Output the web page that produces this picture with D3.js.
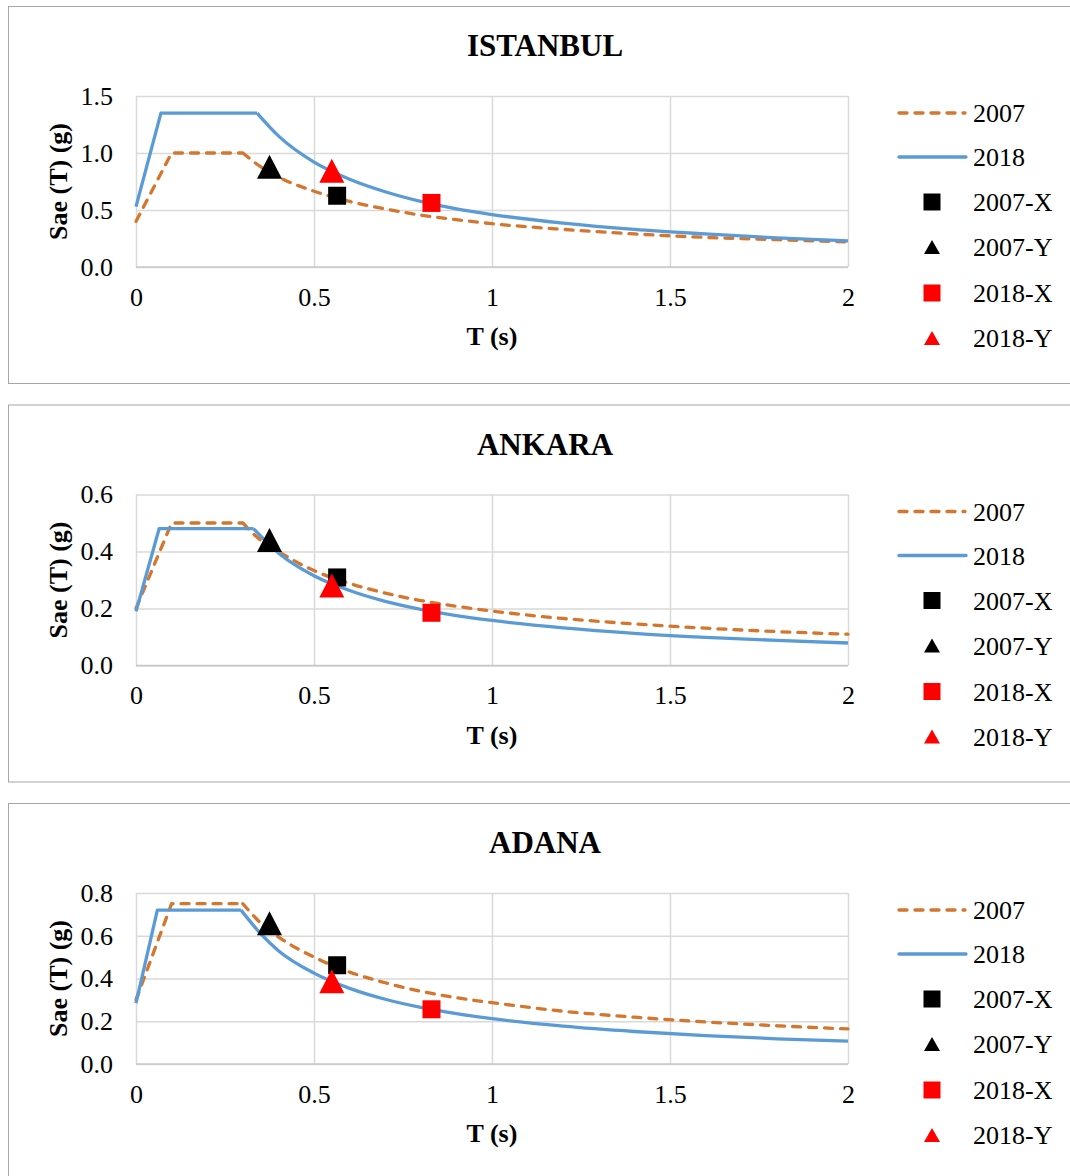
<!DOCTYPE html>
<html>
<head>
<meta charset="utf-8">
<script src="https://cdn.jsdelivr.net/npm/d3@7"></script>
<style>
  body { margin: 0; background: #fff; }
  svg text { font-family: "Liberation Serif", "Times New Roman", serif; fill: #000; }
</style>
</head>
<body>
<div id="charts"></div>
<script>
// periods (s) used for the 2007 spectra
const t2007 = [0, 0.1, 0.3, 0.35, 0.4, 0.5, 0.6, 0.7, 0.8, 0.9, 1.0, 1.2, 1.4, 1.6, 1.8, 2.0];
const istanbul2007 = [0.40, 1.0, 1.0, 0.88, 0.79, 0.665, 0.575, 0.51, 0.455, 0.415, 0.38, 0.33, 0.29, 0.26, 0.24, 0.22];
const ankara2007 = [0.20, 0.5, 0.5, 0.44, 0.40, 0.333, 0.288, 0.254, 0.228, 0.208, 0.191, 0.165, 0.146, 0.131, 0.119, 0.11];
const adana2007 = [0.30, 0.75, 0.75, 0.66, 0.595, 0.50, 0.43, 0.38, 0.34, 0.31, 0.287, 0.247, 0.219, 0.197, 0.179, 0.164];

// 2018 spectra, each city has its own corner periods
const istanbulT2018 = [0, 0.07, 0.34, 0.4, 0.5, 0.6, 0.7, 0.8, 0.9, 1.0, 1.2, 1.4, 1.6, 1.8, 2.0];
const istanbul2018 = [0.53, 1.35, 1.35, 1.15, 0.92, 0.77, 0.66, 0.575, 0.51, 0.46, 0.385, 0.33, 0.29, 0.255, 0.23];
const ankaraT2018 = [0, 0.065, 0.33, 0.4, 0.5, 0.6, 0.7, 0.8, 0.9, 1.0, 1.2, 1.4, 1.6, 1.8, 2.0];
const ankara2018 = [0.19, 0.48, 0.48, 0.395, 0.315, 0.263, 0.225, 0.197, 0.175, 0.158, 0.132, 0.113, 0.099, 0.088, 0.079];
const adanaT2018 = [0, 0.06, 0.295, 0.35, 0.4, 0.5, 0.6, 0.7, 0.8, 0.9, 1.0, 1.2, 1.4, 1.6, 1.8, 2.0];
const adana2018 = [0.285, 0.72, 0.72, 0.61, 0.53, 0.425, 0.354, 0.303, 0.265, 0.236, 0.212, 0.177, 0.152, 0.133, 0.118, 0.107];

// building periods and spectral values
const markerNames = ["2007-X", "2007-Y", "2018-X", "2018-Y"];
const markerT = [0.565, 0.375, 0.83, 0.55];
const istanbulMarks = [0.625, 0.88, 0.562, 0.845];
const ankaraMarks = [0.309, 0.44, 0.185, 0.281];
const adanaMarks = [0.462, 0.659, 0.256, 0.387];

// axis ticks
const xTicks = [0, 0.5, 1, 1.5, 2];
const istanbulTicks = [0, 0.5, 1.0, 1.5];
const ankaraTicks = [0, 0.2, 0.4, 0.6];
const adanaTicks = [0, 0.2, 0.4, 0.6, 0.8];

const cities = [
  {name: "ISTANBUL", s2007: istanbul2007, t2018: istanbulT2018, s2018: istanbul2018, marks: istanbulMarks, ticks: istanbulTicks},
  {name: "ANKARA", s2007: ankara2007, t2018: ankaraT2018, s2018: ankara2018, marks: ankaraMarks, ticks: ankaraTicks},
  {name: "ADANA", s2007: adana2007, t2018: adanaT2018, s2018: adana2018, marks: adanaMarks, ticks: adanaTicks}
];

const orange = "#D5762F", blue = "#5B9BD5", red = "#FF0000";
const markerColor = ["#000", "#000", red, red];
const markerShape = ["square", "triangle", "square", "triangle"];

function triangle(w, h) {
  return `M0,${-h/2}L${w/2},${h/2}L${-w/2},${h/2}Z`;
}
function square(s) {
  return `M${-s/2},${-s/2}h${s}v${s}h${-s}Z`;
}

const svg = d3.select("#charts").append("svg")
  .attr("width", 1070)
  .attr("height", 1176);

const x = d3.scaleLinear().domain([0, 2]).range([136, 848]);
const plotTop = 90, plotBottom = 261;

cities.forEach(function(c, i) {
  const g = svg.append("g").attr("transform", `translate(0,${6 + i * 398.5})`);

  // panel frame
  g.append("rect")
    .attr("x", 8.5).attr("y", 0.5)
    .attr("width", 1080).attr("height", 377)
    .attr("fill", "#fff").attr("stroke", "#a6a6a6");

  g.append("text")
    .attr("x", 545).attr("y", 50)
    .attr("text-anchor", "middle")
    .attr("font-size", 31).attr("font-weight", "bold")
    .text(c.name);

  const y = d3.scaleLinear().domain([0, d3.max(c.ticks)]).range([plotBottom, plotTop]);

  // y axis + horizontal grid
  const ya = g.append("g")
    .attr("transform", `translate(${x(0)},0)`)
    .call(d3.axisLeft(y).tickValues(c.ticks).tickSize(-(x(2) - x(0))).tickPadding(23).tickFormat(d3.format(".1f")));
  ya.select(".domain").remove();
  ya.selectAll("line").attr("stroke", "#d9d9d9").attr("stroke-width", 1.5);
  ya.selectAll("text").attr("font-size", 26);

  // x axis + vertical grid
  const xa = g.append("g")
    .attr("transform", `translate(0,${plotBottom})`)
    .call(d3.axisBottom(x).tickValues(xTicks).tickSize(-(plotBottom - plotTop)).tickPadding(20.5).tickFormat(d => String(d)));
  xa.select(".domain").remove();
  xa.selectAll("line").attr("stroke", "#d9d9d9").attr("stroke-width", 1.5);
  xa.selectAll("text").attr("font-size", 26);

  g.append("line")
    .attr("x1", x(0)).attr("x2", x(2))
    .attr("y1", plotBottom).attr("y2", plotBottom)
    .attr("stroke", "#c8c8c8").attr("stroke-width", 1.5);

  // axis titles
  g.append("text")
    .attr("x", 492).attr("y", plotBottom + 78)
    .attr("text-anchor", "middle")
    .attr("font-size", 26).attr("font-weight", "bold")
    .text("T (s)");
  g.append("text")
    .attr("transform", `translate(67,${(plotTop + plotBottom) / 2}) rotate(-90)`)
    .attr("text-anchor", "middle")
    .attr("font-size", 26).attr("font-weight", "bold")
    .text("Sae (T) (g)");

  // straight rise and plateau, smooth decay after the corner period
  const straight = d3.line().x(d => x(d[0])).y(d => y(d[1]));
  const smooth = d3.line().x(d => x(d[0])).y(d => y(d[1])).curve(d3.curveMonotoneX);
  const spectrum = pts => straight(pts.slice(0, 3)) + smooth(pts.slice(2));

  g.append("path")
    .attr("fill", "none")
    .attr("stroke", orange)
    .attr("stroke-width", 3.3)
    .attr("stroke-dasharray", "8,8")
    .attr("stroke-linecap", "round")
    .attr("stroke-linejoin", "round")
    .attr("d", spectrum(d3.zip(t2007, c.s2007)));

  g.append("path")
    .attr("fill", "none")
    .attr("stroke", blue)
    .attr("stroke-width", 3.3)
    .attr("stroke-linejoin", "round")
    .attr("d", spectrum(d3.zip(c.t2018, c.s2018)));

  // building points
  g.selectAll(".mark")
    .data(markerNames)
    .join("path")
      .attr("class", "mark")
      .attr("transform", (d, k) => `translate(${x(markerT[k])},${y(c.marks[k])})`)
      .attr("d", (d, k) => markerShape[k] == "square" ? square(18) : triangle(25, 24))
      .attr("fill", (d, k) => markerColor[k]);

  // legend
  const legendY = [107, 151, 196, 241, 287, 332];
  const leg = g.append("g");
  leg.append("line")
    .attr("x1", 899).attr("x2", 965)
    .attr("y1", legendY[0]).attr("y2", legendY[0])
    .attr("stroke", orange).attr("stroke-width", 3.3)
    .attr("stroke-dasharray", "8,8").attr("stroke-linecap", "round");
  leg.append("line")
    .attr("x1", 899).attr("x2", 966)
    .attr("y1", legendY[1]).attr("y2", legendY[1])
    .attr("stroke", blue).attr("stroke-width", 3.3).attr("stroke-linecap", "round");
  ["2007", "2018"].forEach(function(s, k) {
    leg.append("text")
      .attr("x", 973).attr("y", legendY[k] + 9)
      .attr("font-size", 26)
      .text(s);
  });
  markerNames.forEach(function(s, k) {
    leg.append("path")
      .attr("transform", `translate(932,${legendY[k + 2]})`)
      .attr("d", markerShape[k] == "square" ? square(17) : triangle(16, 14))
      .attr("fill", markerColor[k]);
    leg.append("text")
      .attr("x", 973).attr("y", legendY[k + 2] + 9)
      .attr("font-size", 26)
      .text(s);
  });
});
</script>
</body>
</html>
